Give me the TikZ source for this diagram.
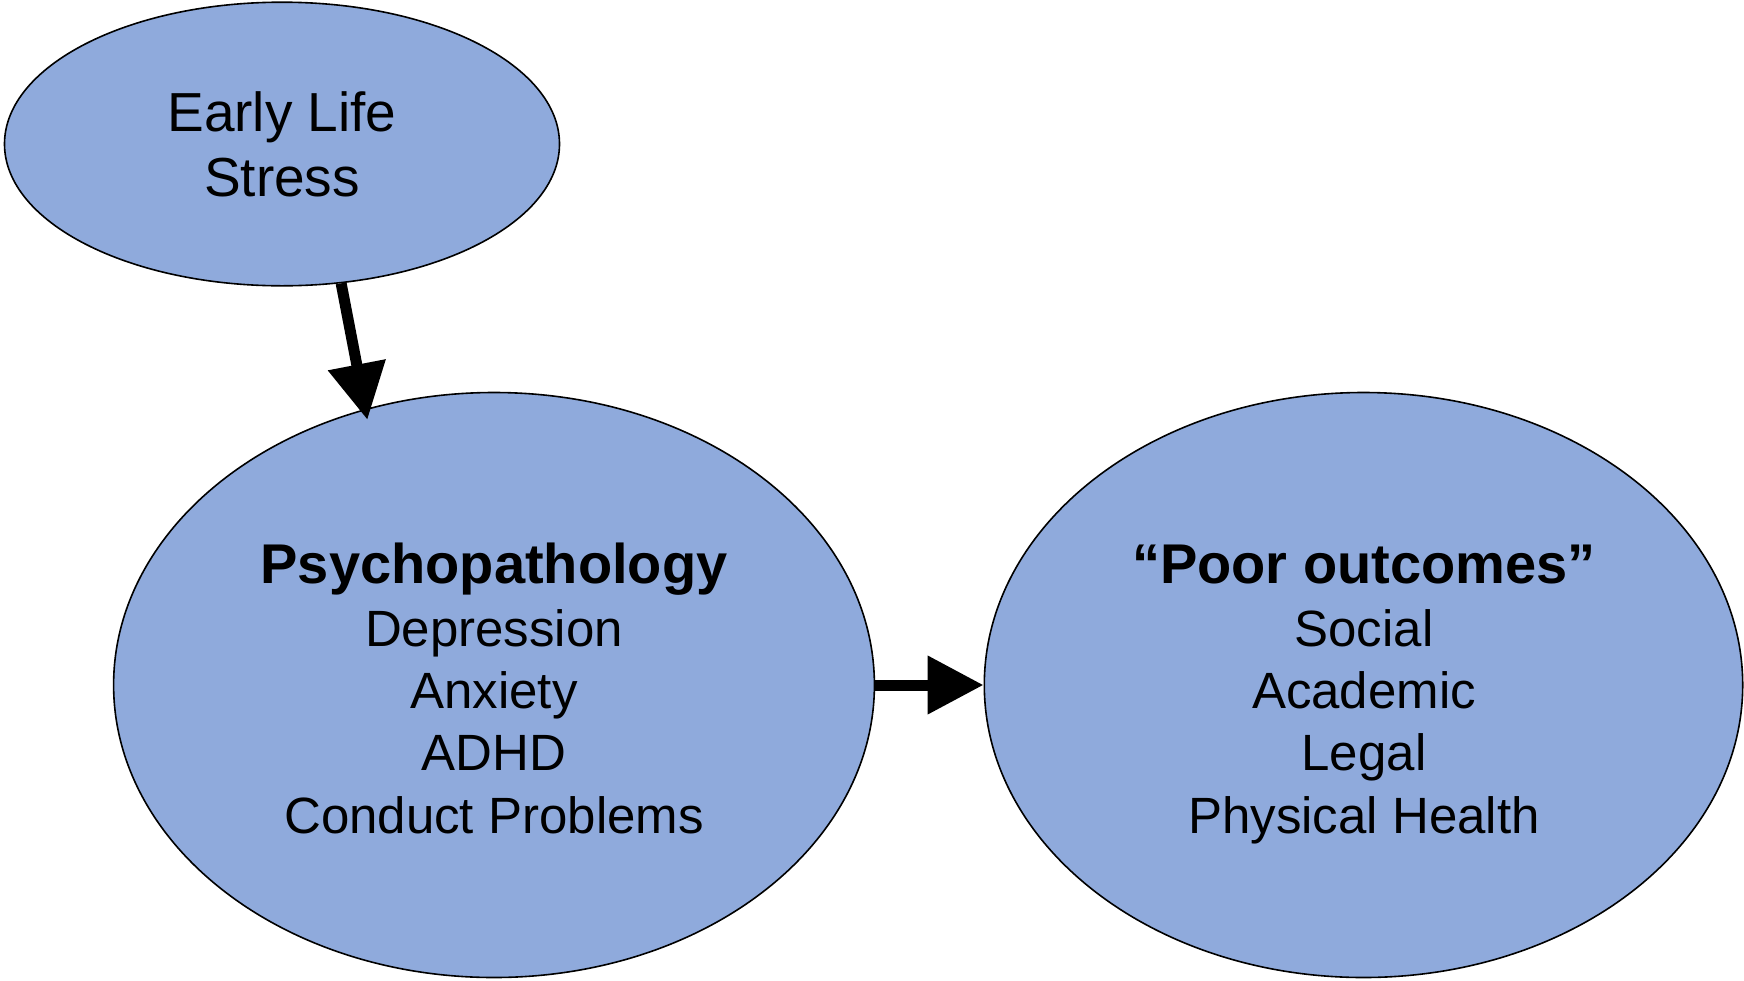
\documentclass[tikz,border=0pt]{standalone}
\usepackage{fontspec}
\setmainfont{Liberation Sans}
\usetikzlibrary{shapes.geometric,arrows.meta}
\definecolor{bubble}{HTML}{8FAADC}
\tikzset{
  bubble/.style={ellipse, draw=black, line width=1.6pt, fill=bubble, inner sep=0pt},
  label text/.style={align=center, anchor=base, inner sep=0pt},
  flow/.style={line width=11pt, -{Triangle[length=56pt, width=56pt]}},
}
\begin{document}
\begin{tikzpicture}[x=1pt, y=-1pt]
  \useasboundingbox (0,0) rectangle (1744,980);

  % the three ellipses
  \node[bubble, minimum width=555pt, minimum height=283.6pt] (E) at (282,144) {};
  \node[bubble, minimum width=760.8pt, minimum height=585pt] (P) at (494,685) {};
  \node[bubble, minimum width=758.4pt, minimum height=585pt] (O) at (1363.5,685) {};

  % their texts (base anchor sits on the last line)
  \node[label text, font=\fontsize{55}{65}\selectfont] (Et) at (282,196)
    {Early Life\\Stress};
  \node[label text, font=\fontsize{51}{62.3}\selectfont] (Pt) at (494,833)
    {{\fontsize{56}{62.3}\selectfont\bfseries Psychopathology}\\Depression\\Anxiety\\ADHD\\Conduct Problems};
  \node[label text, font=\fontsize{51}{62.3}\selectfont] (Ot) at (1364,833)
    {{\fontsize{56}{62.3}\selectfont\bfseries “Poor outcomes”}\\Social\\Academic\\Legal\\Physical Health};

  % connectors
  \draw[flow, shorten >=-11pt] (E.-67) -- (P.115);
  \draw[flow] (P.east) -- (O.west);
\end{tikzpicture}
\end{document}
